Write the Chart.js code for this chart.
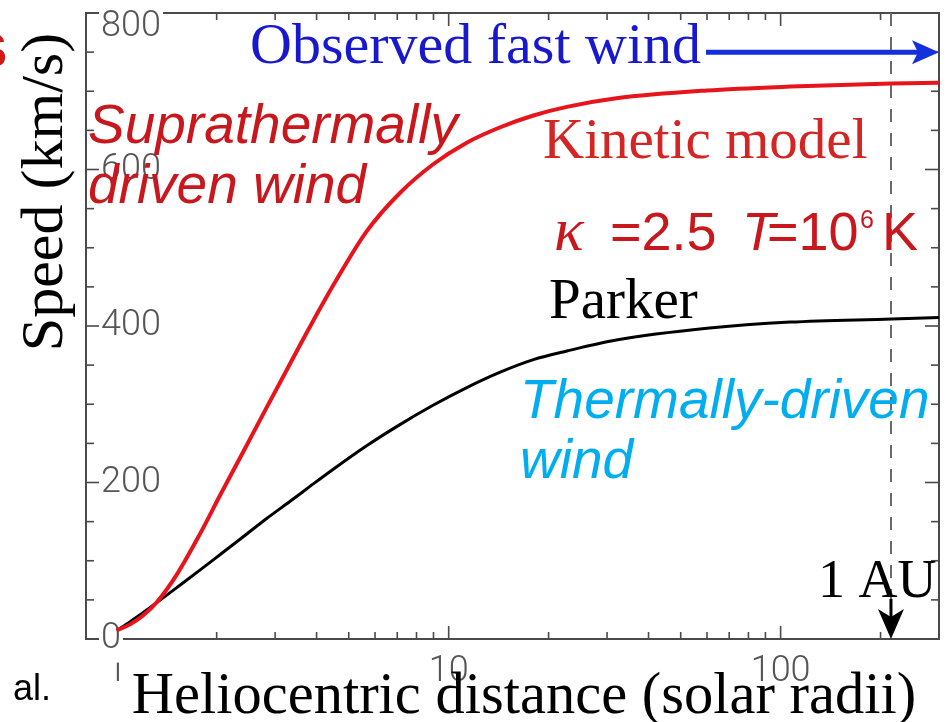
<!DOCTYPE html>
<html>
<head>
<meta charset="utf-8">
<script src="https://cdn.jsdelivr.net/npm/chart.js@4.4.1/dist/chart.umd.min.js"></script>
<style>
  html, body { margin: 0; padding: 0; background: #fff; }
  canvas { display: block; }
</style>
</head>
<body>
<canvas id="chart" width="951" height="722"></canvas>
<script>
// Heliocentric distance, in solar radii
const radii = [1, 1.1, 1.2, 1.32, 1.52, 1.78, 2.05, 2.41, 2.83, 3.33, 3.82, 4.49, 5.66, 7.13, 9.0, 11.3, 14.3, 18, 22.7, 32, 60, 107, 216, 300];
// Kinetic (kappa = 2.5) model wind speed, km/s
const kineticSpeed = [11, 19, 30, 47, 83, 134, 184, 240, 296, 352, 399, 452, 521, 570, 607, 634, 654, 669, 680, 691, 701, 706, 710, 711];
// Parker thermally-driven wind speed, km/s
const parkerSpeed = [11, 22.5, 33.5, 46.5, 66, 88, 108, 131, 154, 176, 195, 217, 247, 274, 299, 321, 341, 357, 368, 382, 397, 405, 409, 411];

// Axis ticks
const xTickValues = [1, 10, 100];
const xMinorValues = [2, 3, 4, 5, 6, 7, 8, 9, 20, 30, 40, 50, 60, 70, 80, 90, 200];
const yTickValues = [0, 200, 400, 600, 800];
const yMinorValues = [50, 100, 150, 250, 300, 350, 450, 500, 550, 650, 700, 750];

// Reference markers
const oneAU = 215;            // 1 AU in solar radii
const fastWindSpeed = 750;    // observed fast wind, km/s
const fastWindFrom = 59.6;    // where the fast-wind arrow starts, solar radii

const SERIF = '"Liberation Serif", "Times New Roman", serif';
const SANS = '"Liberation Sans", Arial, sans-serif';
const TICK_FONT = 'Roboto, "DejaVu Sans", sans-serif';

// keep the plot area exactly where the layout padding puts it
const noScalePadding = s => { s.paddingTop = 0; s.paddingBottom = 0; s.paddingLeft = 0; s.paddingRight = 0; };

// Frame with inward major/minor ticks on all four sides
const framePlugin = {
  id: 'frame',
  beforeDraw(chart) {
    const { ctx, chartArea: a, scales: { x, y } } = chart;
    ctx.save();
    ctx.strokeStyle = '#4a4a4a';
    ctx.lineWidth = 2;
    ctx.strokeRect(a.left, a.top, a.right - a.left, a.bottom - a.top);
    ctx.lineWidth = 1.6;
    const seg = (x0, y0, x1, y1) => { ctx.beginPath(); ctx.moveTo(x0, y0); ctx.lineTo(x1, y1); ctx.stroke(); };
    xTickValues.concat(xMinorValues).forEach(v => {
      const len = xTickValues.includes(v) ? 13 : 7;
      const px = x.getPixelForValue(v);
      seg(px, a.bottom, px, a.bottom - len);
      seg(px, a.top, px, a.top + len);
    });
    yTickValues.concat(yMinorValues).forEach(v => {
      const len = yTickValues.includes(v) ? 14 : 8;
      const py = y.getPixelForValue(v);
      seg(a.left, py, a.left + len, py);
      seg(a.right, py, a.right - len, py);
    });
    ctx.restore();
  }
};

// Labels, arrows and the 1 AU marker
const annotationPlugin = {
  id: 'annotations',
  afterDatasetsDraw(chart) {
    const { ctx, chartArea: a, scales: { x, y } } = chart;
    ctx.save();

    // 1 AU dashed marker with arrow head at the axis
    const auX = x.getPixelForValue(oneAU);
    ctx.strokeStyle = '#6a6a6a';
    ctx.lineWidth = 2;
    ctx.setLineDash([13, 11]);
    ctx.beginPath(); ctx.moveTo(auX, a.top); ctx.lineTo(auX, a.bottom - 20); ctx.stroke();
    ctx.setLineDash([]);
    ctx.strokeStyle = '#000';
    ctx.lineWidth = 3;
    ctx.beginPath(); ctx.moveTo(auX, a.bottom - 40); ctx.lineTo(auX, a.bottom - 20); ctx.stroke();
    ctx.fillStyle = '#000';
    ctx.beginPath();
    ctx.moveTo(auX, a.bottom);
    ctx.lineTo(auX - 13, a.bottom - 30);
    ctx.lineTo(auX, a.bottom - 22);
    ctx.lineTo(auX + 13, a.bottom - 30);
    ctx.closePath(); ctx.fill();

    // Observed fast wind arrow
    const fy = y.getPixelForValue(fastWindSpeed);
    const fx0 = x.getPixelForValue(fastWindFrom);
    const fx1 = x.getPixelForValue(x.max);
    ctx.strokeStyle = '#1430dc';
    ctx.fillStyle = '#1430dc';
    ctx.lineWidth = 5;
    ctx.beginPath(); ctx.moveTo(fx0, fy); ctx.lineTo(fx1 - 18, fy); ctx.stroke();
    ctx.beginPath();
    ctx.moveTo(fx1, fy);
    ctx.lineTo(fx1 - 27, fy - 12);
    ctx.lineTo(fx1 - 21, fy);
    ctx.lineTo(fx1 - 27, fy + 12);
    ctx.closePath(); ctx.fill();

    const text = (str, px, py, font, color, align) => {
      ctx.font = font;
      ctx.fillStyle = color;
      ctx.textAlign = align || 'left';
      ctx.textBaseline = 'alphabetic';
      ctx.fillText(str, px, py);
    };

    text('Observed fast wind', 250, 63, '58px ' + SERIF, '#1818cc');
    text('Suprathermally', 88, 143, 'italic 55px ' + SANS, '#c8181e');
    text('driven wind', 88, 203, 'italic 55px ' + SANS, '#c8181e');
    text('Kinetic model', 543, 158, '57px ' + SERIF, '#d42424');

    // kappa = 2.5, T = 10^6 K
    const red = '#c8181e';
    text('\u03BA', 554, 250, 'italic 62px ' + SERIF, red);
    text('=2.5', 610, 250, '54px ' + SANS, red);
    text('T', 742, 250, 'italic 54px ' + SANS, red);
    text('=10', 767, 250, '54px ' + SANS, red);
    text('6', 860, 228, '25px ' + SANS, red);
    text('K', 882, 250, '54px ' + SANS, red);

    text('Parker', 549, 318, '57px ' + SERIF, '#000');
    text('Thermally-driven', 520, 418, 'italic 55px ' + SANS, '#00aeef');
    text('wind', 520, 478, 'italic 55px ' + SANS, '#00aeef');
    text('1 AU', 818, 597, '54px ' + SERIF, '#000');

    // axis titles
    text('Heliocentric distance (solar radii)', 524, 713, '58.5px ' + SERIF, '#000', 'center');
    ctx.save();
    ctx.translate(62, 192);
    ctx.rotate(-Math.PI / 2);
    text('Speed (km/s)', 0, 0, '60px ' + SERIF, '#000', 'center');
    ctx.restore();

    // slide fragments at the left edge
    text('al.', 13, 700, '36px ' + SANS, '#000');
    text('S', -25, 67, 'bold 48px ' + SANS, '#d01818');

    ctx.restore();
  }
};

new Chart(document.getElementById('chart'), {
  type: 'line',
  data: {
    datasets: [
      {
        label: 'Kinetic model',
        data: radii.map((r, i) => ({ x: r, y: kineticSpeed[i] })),
        borderColor: '#e8141c',
        borderWidth: 4,
        pointRadius: 0,
        cubicInterpolationMode: 'monotone',
        fill: false
      },
      {
        label: 'Parker',
        data: radii.map((r, i) => ({ x: r, y: parkerSpeed[i] })),
        borderColor: '#000000',
        borderWidth: 3,
        pointRadius: 0,
        cubicInterpolationMode: 'monotone',
        fill: false
      }
    ]
  },
  options: {
    responsive: false,
    animation: false,
    layout: { autoPadding: false, padding: { top: 13, right: 12, left: 0, bottom: 0 } },
    plugins: { legend: { display: false }, tooltip: { enabled: false } },
    scales: {
      x: {
        type: 'logarithmic',
        min: 0.808,
        max: 300,
        grid: { display: false },
        border: { display: false },
        afterBuildTicks: s => { s.ticks = xTickValues.map(v => ({ value: v })); },
        afterFit: s => { s.height = 83; noScalePadding(s); },
        ticks: {
          autoSkip: false,
          maxRotation: 0,
          padding: 3,
          color: '#555',
          font: { family: TICK_FONT, weight: 300, size: 36 },
          callback: v => String(v)
        }
      },
      y: {
        type: 'linear',
        min: 0,
        max: 800,
        grid: { display: false },
        border: { display: false },
        afterBuildTicks: s => { s.ticks = yTickValues.map(v => ({ value: v })); },
        afterFit: s => { s.width = 86; noScalePadding(s); },
        ticks: {
          mirror: true,
          padding: 15,
          color: '#555',
          showLabelBackdrop: true,
          backdropColor: '#ffffff',
          backdropPadding: 2,
          font: ctx => ({
            family: TICK_FONT, weight: 300, size: 36,
            lineHeight: ctx.tick && ctx.tick.value === 800 ? '28px' : 1.2
          }),
          callback: v => (v === 800 ? ['', '800'] : String(v))
        }
      }
    }
  },
  plugins: [framePlugin, annotationPlugin]
});
</script>
</body>
</html>
